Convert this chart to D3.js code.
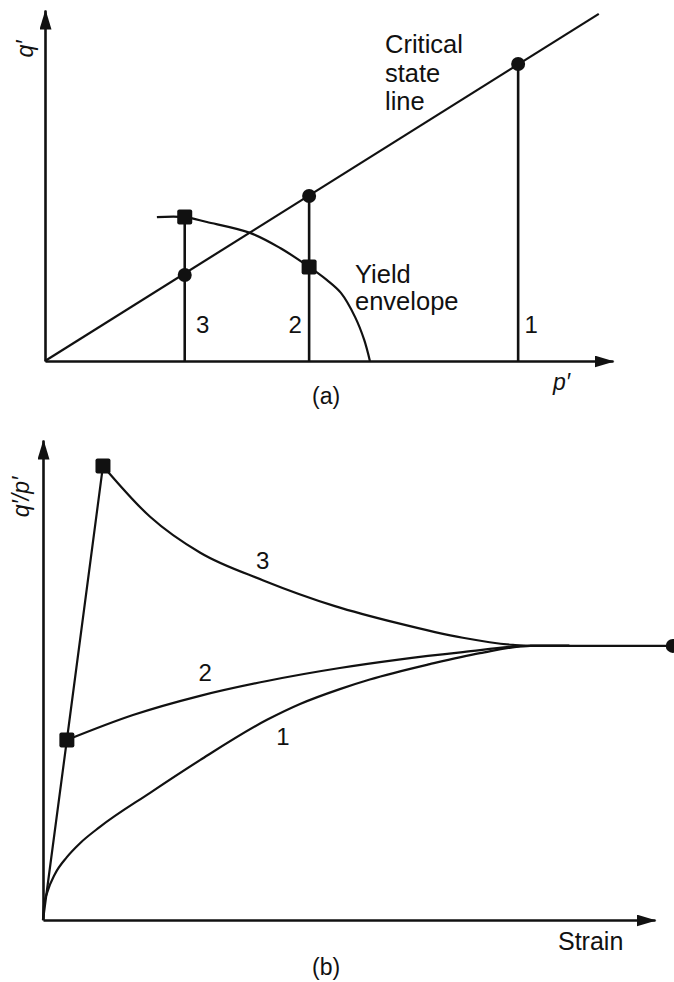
<!DOCTYPE html>
<html>
<head>
<meta charset="utf-8">
<script src="https://cdn.jsdelivr.net/npm/d3@7"></script>
<style>
  html, body { margin: 0; padding: 0; background: #fff; }
  svg { display: block; }
  text { font-family: "Liberation Sans", Arial, sans-serif; fill: #111; }
</style>
</head>
<body>
<div id="chart"></div>
<script>
// ---- (a) p'-q' plane, arbitrary units ----
const cslLine = [[0, 0], [97.5, 98.9]];
const yieldEnvelope = [[19.7, 41.0], [24.6, 41.0], [28.5, 39.6], [36.1, 36.5], [41.4, 32.2],
  [46.5, 26.8], [49.6, 23.1], [52.1, 19.4], [54.6, 12.5], [56.2, 6.0], [57.2, 0]];
const testNames = ["1", "2", "3"];
const testP = [83.3, 46.5, 24.6];
const testQfail = [84.6, 47.0, 24.5];   // on the critical state line
const testQyield = [null, 26.8, 41.0];  // on the yield envelope

// ---- (b) q'/p' against strain ----
const elasticLine = [[0, 0], [3.9, 37.5], [9.8, 94.6]];
const curve3 = [[9.8, 94.6], [17.5, 84.0], [25.7, 76.5], [35.9, 70.8], [47.7, 65.4],
  [57.8, 61.9], [68.6, 58.8], [76.8, 57.3], [79.6, 57.1], [86, 57.1]];
const curve2 = [[3.9, 37.5], [14.7, 42.7], [25.65, 46.7], [36.6, 49.8], [48.5, 52.5],
  [57.8, 54.2], [68.6, 55.8], [79.6, 57.1], [86, 57.1]];
const curve1 = [[0, 0], [0.16, 3.1], [0.65, 5.6], [1.96, 9.6], [3.9, 13.1], [6.05, 16.0],
  [9.3, 19.4], [17.5, 26.5], [25.65, 33.3], [36.6, 41.7], [42.0, 45.0], [48.5, 48.1],
  [53.4, 50.1], [63.2, 53.3], [71.4, 55.6], [79.6, 57.1], [86, 57.1]];
const criticalRatio = [[79.6, 57.1], [102.9, 57.1]];
const curveNames = ["1", "2", "3"];
const curveLabelAt = [[39.2, 38.3], [26.5, 51.5], [35.9, 74.8]];
const yieldPoints = [[3.9, 37.5], [9.8, 94.6]];

const W = 674, H = 982;
const svg = d3.select("#chart").append("svg")
  .attr("width", W).attr("height", H);

// arrowhead
svg.append("defs").append("marker")
  .attr("id", "arrow")
  .attr("markerUnits", "userSpaceOnUse")
  .attr("viewBox", "0 -6 20 12")
  .attr("refX", 19).attr("refY", 0)
  .attr("markerWidth", 20).attr("markerHeight", 12)
  .attr("orient", "auto")
  .append("path")
  .attr("d", "M0,-6L20,0L0,6Z")
  .attr("fill", "#111");

function drawAxes(g, x, y) {
  const ax = g.append("g")
    .attr("transform", `translate(0,${y(0)})`)
    .call(d3.axisBottom(x).tickValues([]).tickSizeOuter(0));
  const ay = g.append("g")
    .attr("transform", `translate(${x(0)},0)`)
    .call(d3.axisLeft(y).tickValues([]).tickSizeOuter(0));
  [ax, ay].forEach(a => a.select(".domain")
    .attr("stroke", "#111")
    .attr("stroke-width", 2.6)
    .attr("marker-end", "url(#arrow)"));
}

// ================= (a) =================
const gA = svg.append("g");
const xA = d3.scaleLinear().domain([0, 100]).range([45, 613]);
const yA = d3.scaleLinear().domain([0, 100]).range([361, 10]);
drawAxes(gA, xA, yA);

const lineA = d3.line().x(d => xA(d[0])).y(d => yA(d[1]));
const envA = d3.line().x(d => xA(d[0])).y(d => yA(d[1]))
  .curve(d3.curveCatmullRom.alpha(0.5));

gA.append("path").datum(cslLine)
  .attr("d", lineA).attr("fill", "none")
  .attr("stroke", "#111").attr("stroke-width", 2.2);

gA.append("path").datum(yieldEnvelope)
  .attr("d", envA).attr("fill", "none")
  .attr("stroke", "#111").attr("stroke-width", 2.2);

const tests = testNames.map((n, i) => ({ name: n, p: testP[i], qf: testQfail[i], qy: testQyield[i] }));
const labelDx = { "1": 13, "2": -14, "3": 18 };

gA.selectAll(".stem").data(tests).join("line")
  .attr("x1", d => xA(d.p)).attr("x2", d => xA(d.p))
  .attr("y1", yA(0)).attr("y2", d => yA(Math.max(d.qf, d.qy || 0)))
  .attr("stroke", "#111").attr("stroke-width", 2.6);

gA.selectAll(".fail").data(tests).join("circle")
  .attr("cx", d => xA(d.p)).attr("cy", d => yA(d.qf))
  .attr("r", 7).attr("fill", "#111");

gA.selectAll(".yld").data(tests.filter(d => d.qy != null)).join("rect")
  .attr("x", d => xA(d.p) - 7.5).attr("y", d => yA(d.qy) - 7.5)
  .attr("width", 15).attr("height", 15).attr("rx", 2).attr("fill", "#111");

gA.selectAll(".tlab").data(tests).join("text")
  .attr("x", d => xA(d.p) + labelDx[d.name])
  .attr("y", 333)
  .attr("text-anchor", "middle")
  .attr("font-size", 24)
  .text(d => d.name);

const csl = gA.append("text").attr("x", 385).attr("font-size", 25.5);
["Critical", "state", "line"].forEach((t, i) =>
  csl.append("tspan").attr("x", 385).attr("y", 53 + i * 28.5).text(t));
const ye = gA.append("text").attr("font-size", 25.5);
["Yield", "envelope"].forEach((t, i) =>
  ye.append("tspan").attr("x", 355).attr("y", 283 + i * 27).text(t));

gA.append("text").attr("x", 553).attr("y", 390)
  .attr("font-size", 23).attr("font-style", "italic").text("p\u2032");
gA.append("text")
  .attr("transform", "translate(33,49) rotate(-90)")
  .attr("text-anchor", "middle")
  .attr("font-size", 23).attr("font-style", "italic").text("q\u2032");
gA.append("text").attr("x", 312).attr("y", 404)
  .attr("font-size", 23).text("(a)");

// ================= (b) =================
const gB = svg.append("g");
const xB = d3.scaleLinear().domain([0, 100]).range([43, 655]);
const yB = d3.scaleLinear().domain([0, 100]).range([920, 440]);
drawAxes(gB, xB, yB);

const lineB = d3.line().x(d => xB(d[0])).y(d => yB(d[1]));
const curveB = d3.line().x(d => xB(d[0])).y(d => yB(d[1])).curve(d3.curveMonotoneX);

gB.append("path").datum(elasticLine)
  .attr("d", lineB).attr("fill", "none")
  .attr("stroke", "#111").attr("stroke-width", 2.2);
gB.append("path").datum(criticalRatio)
  .attr("d", lineB).attr("fill", "none")
  .attr("stroke", "#111").attr("stroke-width", 2.2);

gB.selectAll(".crv").data([curve1, curve2, curve3]).join("path")
  .attr("d", curveB).attr("fill", "none")
  .attr("stroke", "#111").attr("stroke-width", 2.2);

gB.selectAll(".yp").data(yieldPoints).join("rect")
  .attr("x", d => xB(d[0]) - 7.5).attr("y", d => yB(d[1]) - 7.5)
  .attr("width", 15).attr("height", 15).attr("rx", 2).attr("fill", "#111");

gB.append("circle")
  .attr("cx", xB(criticalRatio[1][0])).attr("cy", yB(criticalRatio[1][1]))
  .attr("r", 7).attr("fill", "#111");

gB.selectAll(".clab").data(curveNames).join("text")
  .attr("x", (d, i) => xB(curveLabelAt[i][0]))
  .attr("y", (d, i) => yB(curveLabelAt[i][1]) + 8.5)
  .attr("text-anchor", "middle")
  .attr("font-size", 24)
  .text(d => d);

gB.append("text").attr("x", 558).attr("y", 950)
  .attr("font-size", 25).text("Strain");
gB.append("text")
  .attr("transform", "translate(29,497) rotate(-90)")
  .attr("text-anchor", "middle")
  .attr("font-size", 23).attr("font-style", "italic").text("q\u2032/p\u2032");
gB.append("text").attr("x", 312).attr("y", 975)
  .attr("font-size", 23).text("(b)");
</script>
</body>
</html>
